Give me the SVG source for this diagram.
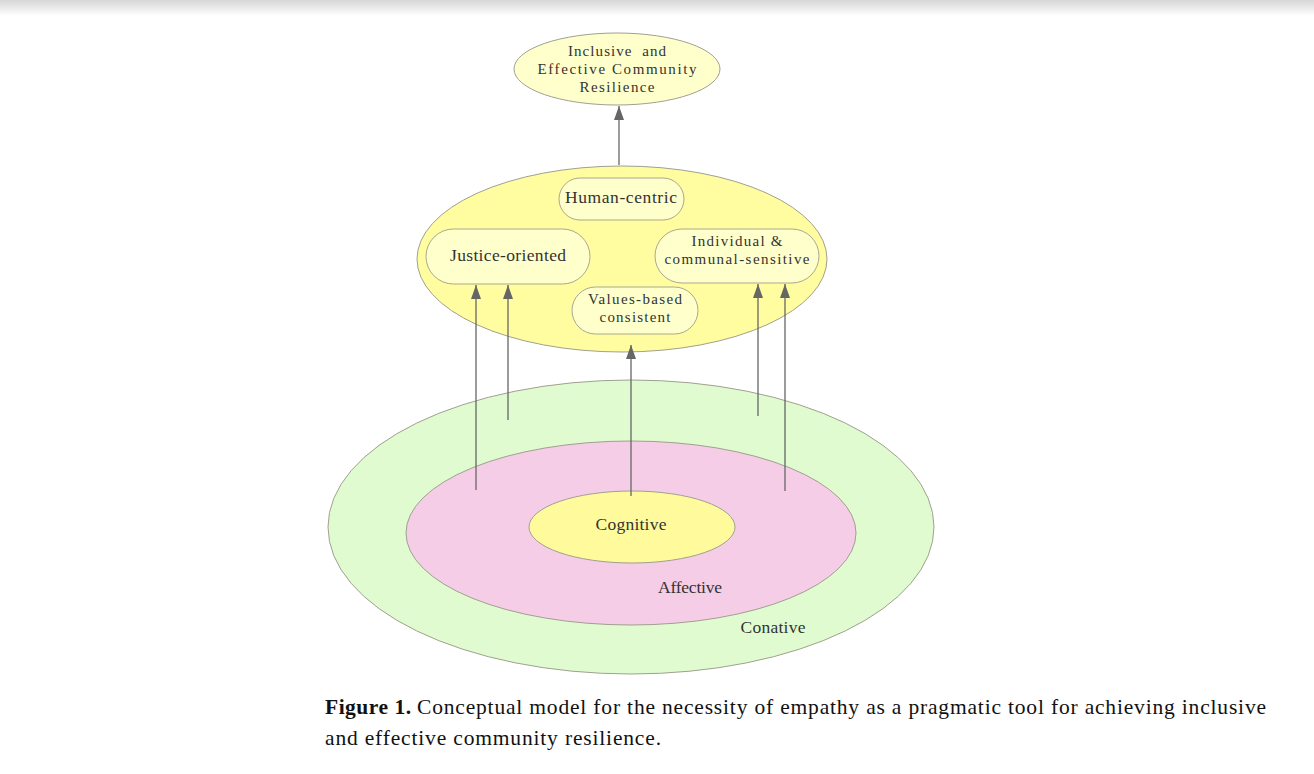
<svg xmlns="http://www.w3.org/2000/svg" width="1314" height="774" viewBox="0 0 1314 774">
<style>
.lbl{font-family:"Liberation Serif","DejaVu Serif",serif;font-size:17.5px;fill:#333;text-anchor:middle}
.ml{font-size:15px}
.cap{font-family:"Liberation Serif","DejaVu Serif",serif;font-size:21.5px;fill:#111}
.edge{stroke:#666;stroke-width:1.3;fill:none}
.pill{fill:#ffffcc;stroke:#a8a890;stroke-width:1}
.ell{stroke:#a0a090;stroke-width:1}
</style>
<defs>
<linearGradient id="shadow" x1="0" y1="0" x2="0" y2="1">
<stop offset="0" stop-color="#d6d6d6"/>
<stop offset="1" stop-color="#ffffff"/>
</linearGradient>
<marker id="arr" markerUnits="userSpaceOnUse" markerWidth="14" markerHeight="10" refX="14" refY="5" orient="auto">
<path d="M0,0 L14,5 L0,10 z" fill="#666"/>
</marker>
</defs>
<rect x="0" y="0" width="1314" height="774" fill="#fff"/>
<rect x="0" y="0" width="1314" height="16" fill="url(#shadow)"/>

<g id="conative">
<ellipse class="ell" cx="631" cy="527" rx="303" ry="147" fill="#e0fbd0"/>
<text class="lbl" x="773" y="633" textLength="65">Conative</text>
</g>
<g id="affective">
<ellipse class="ell" cx="631" cy="533" rx="225" ry="92" fill="#f5cde6"/>
<text class="lbl" x="690" y="593" textLength="64">Affective</text>
</g>
<g id="cognitive">
<ellipse class="ell" cx="632" cy="527" rx="103" ry="36" fill="#fffb9d"/>
<text class="lbl" x="631" y="530" textLength="71">Cognitive</text>
</g>

<g id="outcome">
<ellipse class="ell" cx="617" cy="69" rx="103" ry="36" fill="#ffffcc"/>
<text class="lbl ml" x="617" y="56" textLength="98" xml:space="preserve">Inclusive  and</text>
<text class="lbl ml" x="617" y="74" textLength="159">Effective Community</text>
<text class="lbl ml" x="617" y="92" textLength="75">Resilience</text>
</g>

<g id="qualities">
<ellipse class="ell" cx="622" cy="259" rx="205" ry="93" fill="#fffd9f"/>
</g>
<g id="human-centric">
<rect class="pill" x="559" y="178" width="125" height="42" rx="21"/>
<text class="lbl" x="621" y="203" textLength="112">Human-centric</text>
</g>
<g id="justice-oriented">
<rect class="pill" x="426" y="229" width="164" height="55" rx="27.5"/>
<text class="lbl" x="508" y="261" textLength="116">Justice-oriented</text>
</g>
<g id="individual-communal">
<rect class="pill" x="655" y="229" width="164" height="54" rx="27"/>
<text class="lbl ml" x="737" y="246" textLength="91">Individual &amp;</text>
<text class="lbl ml" x="737" y="264" textLength="145">communal-sensitive</text>
</g>
<g id="values-based">
<rect class="pill" x="572" y="287" width="126" height="47" rx="23.5"/>
<text class="lbl ml" x="635" y="304" textLength="94">Values-based</text>
<text class="lbl ml" x="635" y="322" textLength="71">consistent</text>
</g>

<g id="connectors">
<line class="edge" x1="619" y1="165" x2="619" y2="106" marker-end="url(#arr)"/>
<line class="edge" x1="476" y1="490" x2="476" y2="285" marker-end="url(#arr)"/>
<line class="edge" x1="508" y1="420" x2="508" y2="285" marker-end="url(#arr)"/>
<line class="edge" x1="631" y1="496" x2="631" y2="345" marker-end="url(#arr)"/>
<line class="edge" x1="758" y1="416" x2="758" y2="284" marker-end="url(#arr)"/>
<line class="edge" x1="785" y1="491" x2="785" y2="284" marker-end="url(#arr)"/>
</g>

<g id="caption">
<text class="cap" x="325" y="714" font-weight="bold" textLength="86">Figure 1.</text>
<text class="cap" x="417" y="714" textLength="849">Conceptual model for the necessity of empathy as a pragmatic tool for achieving inclusive</text>
<text class="cap" x="325" y="745" textLength="336">and effective community resilience.</text>
</g>
</svg>
